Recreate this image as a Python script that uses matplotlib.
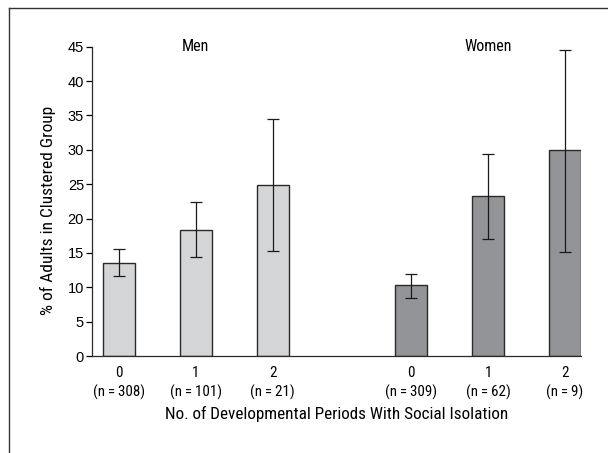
import matplotlib
matplotlib.use("Agg")
import matplotlib.pyplot as plt
from matplotlib.lines import Line2D
import numpy as np

plt.rcParams['font.family'] = ['Roboto Condensed', 'Archivo Narrow', 'DejaVu Sans']

# data
periods = ['0', '1', '2']
men_n = [308, 101, 21]
women_n = [309, 62, 9]
men_pct = [13.6, 18.4, 24.9]
men_lo = [11.6, 14.4, 15.3]
men_hi = [15.5, 22.4, 34.5]
women_pct = [10.3, 23.3, 29.9]
women_lo = [8.5, 17.0, 15.2]
women_hi = [11.9, 29.4, 44.5]
yticks = list(range(0, 50, 5))

men_x = np.array([0, 1, 2])
women_x = np.array([3.8, 4.8, 5.8])
width = 0.417

fig = plt.figure(figsize=(6.08, 4.53), dpi=100)
ax = fig.add_axes([0.1508, 0.2141, 0.9556 - 0.1508, 0.8969 - 0.2141])

for xs, vals, lo, hi, col in [(men_x, men_pct, men_lo, men_hi, '#d4d5d7'),
                              (women_x, women_pct, women_lo, women_hi, '#939497')]:
    vals = np.array(vals)
    yerr = [vals - np.array(lo), np.array(hi) - vals]
    ax.bar(xs, vals, width=width, color=col, edgecolor='#2a2a2a', linewidth=1.0, zorder=2)
    ax.errorbar(xs, vals, yerr=yerr, fmt='none', ecolor='#1a1a1a', elinewidth=0.9,
                capsize=4.3, capthick=0.9, zorder=3)

ax.set_xlim(-0.352, 6.008)
ax.set_ylim(0, 45)
ax.set_yticks(yticks)
ax.set_yticklabels([str(t) for t in yticks], family=['Liberation Sans', 'DejaVu Sans'])

sp = '\u2009'
labels = [f"{p}\n(n{sp}={sp}{n})" for p, n in zip(periods, men_n)] + \
         [f"{p}\n(n{sp}={sp}{n})" for p, n in zip(periods, women_n)]
ax.set_xticks(list(men_x) + list(women_x))
ax.set_xticklabels(labels, fontsize=10.8, linespacing=1.45)
ax.tick_params(axis='x', length=0, pad=7)
ax.tick_params(axis='y', direction='out', length=4, width=0.9, labelsize=10.5, pad=1.5)

for s in ['top', 'right']:
    ax.spines[s].set_visible(False)
for s in ['left', 'bottom']:
    ax.spines[s].set_linewidth(0.9)
    ax.spines[s].set_color('#2a2a2a')

ax.set_xlabel('No. of Developmental Periods With Social Isolation', fontsize=12.3, labelpad=4)
ax.set_ylabel('% of Adults in Clustered Group', fontsize=12.5)
ax.yaxis.set_label_coords(-0.072, 0.472)

ax.text(men_x[1], 45, 'Men', ha='center', va='center', fontsize=11.5)
ax.text(women_x[1], 45, 'Women', ha='center', va='center', fontsize=11.5)

# partial frame around the figure
fx = 9 / 608
fy = 1 - 7.5 / 453
fig.add_artist(Line2D([fx, fx], [0, fy], transform=fig.transFigure, color='#333333', lw=1))
fig.add_artist(Line2D([fx, 1], [fy, fy], transform=fig.transFigure, color='#333333', lw=1))

fig.savefig('out.png', dpi=100)
